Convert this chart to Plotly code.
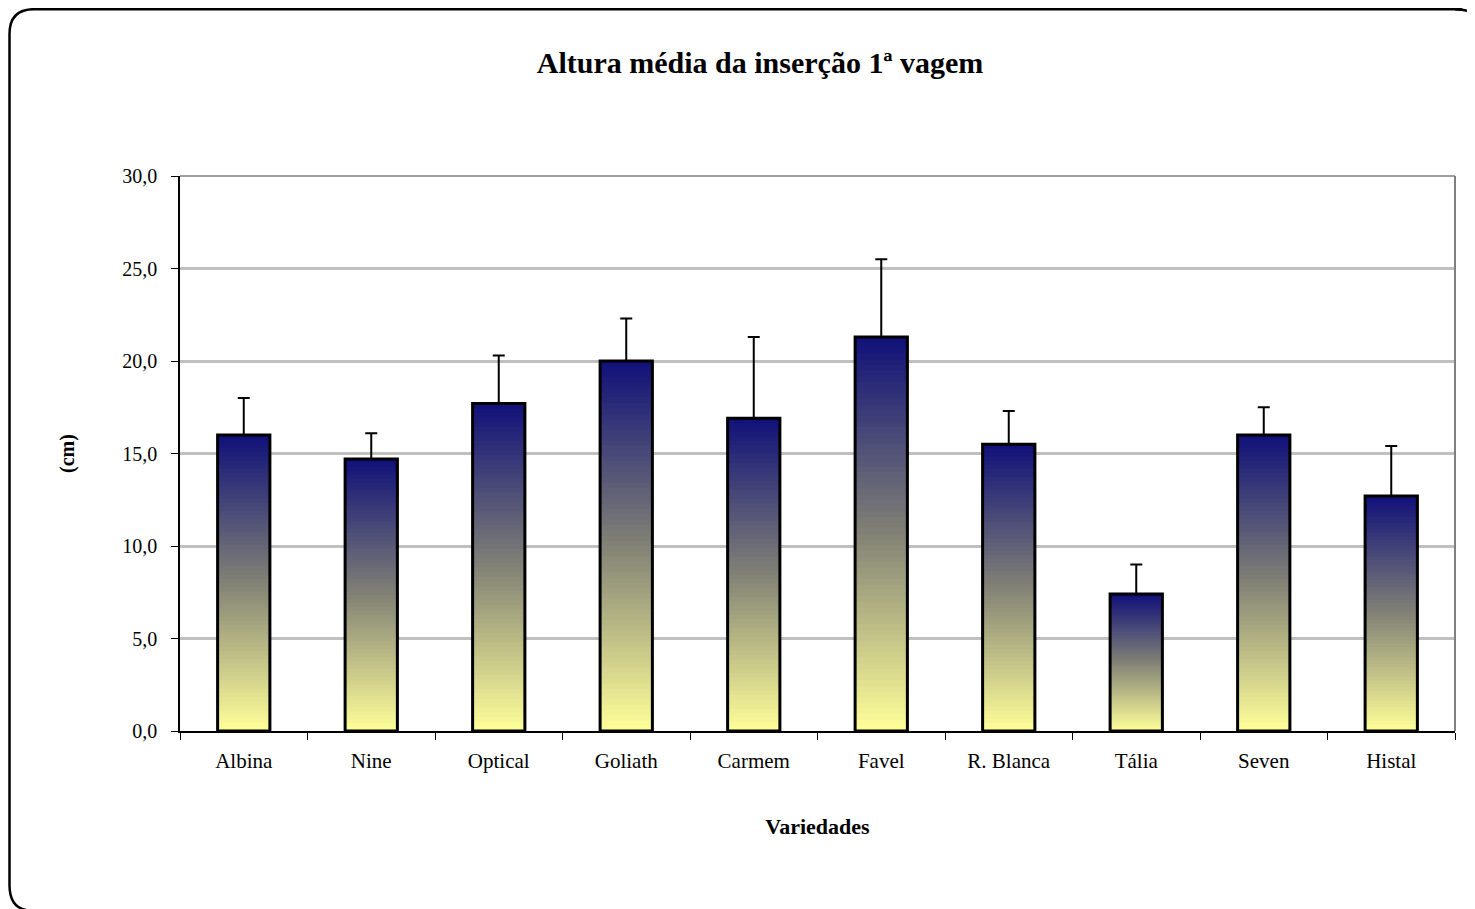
import plotly.graph_objects as go

categories = ["Albina", "Nine", "Optical", "Goliath", "Carmem", "Favel", "R. Blanca", "Tália", "Seven", "Histal"]
means = [16.0, 14.7, 17.7, 20.0, 16.9, 21.3, 15.5, 7.4, 16.0, 12.7]
upper = [18.0, 16.1, 20.3, 22.3, 21.3, 25.5, 17.3, 9.0, 17.5, 15.4]
yticks = [0, 5, 10, 15, 20, 25, 30]

W, H = 1475, 909
OFF = 8  # page body offset
L, R, T, B = 180 - OFF, 1455 - OFF, 176 - OFF, 731 - OFF

def lerp(c1, c2, t):
    return "rgb(%d,%d,%d)" % tuple(round(a + (b - a) * t) for a, b in zip(c1, c2))

bottom_c = (255, 255, 153)
mid_c = (130, 130, 118)
top_c = (16, 16, 122)

def grad(t):
    if t < 0.5:
        return lerp(bottom_c, mid_c, t / 0.5)
    return lerp(mid_c, top_c, (t - 0.5) / 0.5)

fig = go.Figure()
N = 70
BW = 0.41
for k in range(N):
    bases = [v * k / N for v in means]
    hs = [min(v / N * 1.6, v - b) for v, b in zip(means, bases)]
    fig.add_trace(go.Bar(
        x=categories, y=hs, base=bases, width=BW,
        marker=dict(color=grad((k + 0.5) / N), line=dict(width=0)),
        hoverinfo="skip", showlegend=False))

fig.add_trace(go.Bar(
    x=categories, y=means, width=BW,
    marker=dict(color="rgba(0,0,0,0)", line=dict(color="black", width=3)),
    error_y=dict(type="data", symmetric=False,
                 array=[u - m for u, m in zip(upper, means)],
                 arrayminus=[0] * len(means),
                 color="black", thickness=2, width=6),
    showlegend=False))

def px(x):
    return (x - OFF - L) / (R - L)

def py(y):
    return (B - (y - OFF)) / (B - T)

FX, FY = 9.5, 9.2
frame = ("M %f,%f L %f,%f Q %f,%f %f,%f L %f,%f Q %f,%f %f,%f" % (
    px(1462), py(FY), px(34), py(FY), px(FX), py(FY), px(FX), py(34),
    px(FX), py(885), px(FX), py(907), px(26), py(910)))
frame2 = "M %f,%f Q %f,%f %f,%f" % (px(1455), py(FY), px(1475), py(FY), px(1480), py(22))

shapes = [
    dict(type="path", xref="paper", yref="paper", path=frame,
         line=dict(color="black", width=2.5)),
    dict(type="path", xref="paper", yref="paper", path=frame2,
         line=dict(color="black", width=2.5)),
    dict(type="line", xref="paper", yref="paper", x0=0, x1=1, y0=1, y1=1,
         line=dict(color="#808080", width=1.5)),
    dict(type="line", xref="paper", yref="paper", x0=1, x1=1, y0=0, y1=1,
         line=dict(color="#808080", width=2)),
]

fig.update_layout(
    width=W, height=H,
    margin=dict(l=L, r=W - R, t=T, b=H - B),
    paper_bgcolor="white", plot_bgcolor="white",
    barmode="overlay",
    separators=",.",
    font=dict(family="Liberation Serif", color="black", size=20),
    title=dict(text="<b>Altura média da inserção 1ª vagem</b>",
               x=(760 - OFF) / W, xanchor="center", y=1 - (62 - OFF) / H, yanchor="middle",
               font=dict(family="Liberation Serif", size=30, color="black")),
    xaxis=dict(
        showline=True, linecolor="black", linewidth=2,
        ticks="outside", tickson="boundaries", ticklen=7, tickcolor="black", tickwidth=1,
        tickfont=dict(size=21), showgrid=False, ticklabelstandoff=10,
        title=dict(text="<b>Variedades</b>", font=dict(size=22), standoff=46),
    ),
    yaxis=dict(
        range=[0, 30], tickvals=yticks, tickformat=".1f",
        showline=True, linecolor="black", linewidth=1.5,
        ticks="outside", ticklen=7, tickcolor="black", tickwidth=1,
        tickfont=dict(size=20), ticklabelstandoff=10,
        showgrid=True, gridcolor="#c0c0c0", gridwidth=3,
        zeroline=False,
        title=dict(text="<b>(cm)</b>", font=dict(size=20), standoff=42),
    ),
    shapes=shapes,
)

fig.write_html("out.html")
